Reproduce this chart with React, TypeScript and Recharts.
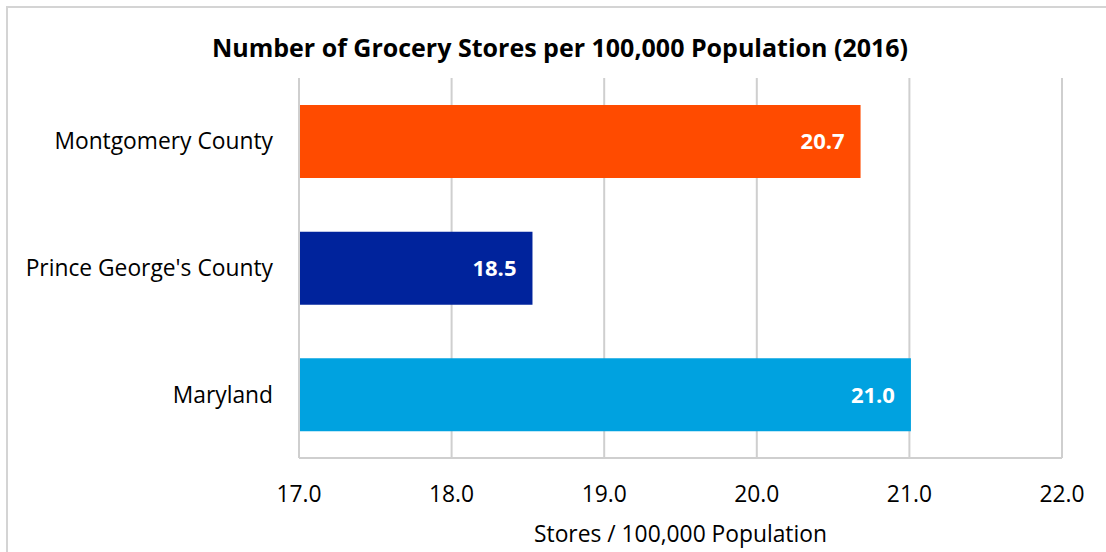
import { BarChart, Bar, XAxis, YAxis, CartesianGrid, Cell, LabelList, Label } from 'recharts';

// 지역별 식료품점 수 (인구 10만명당, 2016)
const regions = ['Montgomery County', "Prince George's County", 'Maryland'];
const stores = [20.68, 18.53, 21.01];
const barColors = ['#FF4B00', '#00239C', '#00A2E0'];
const xTicks = [17, 18, 19, 20, 21, 22];

const data = regions.map((name, i) => ({ name, value: stores[i] }));

const FONT = '"Open Sans", sans-serif';

const YTick = (props: any) => {
  const { x, y, payload } = props;
  return (
    <text x={x - 18} y={y} dy={8} textAnchor="end" fontSize={22.8} fontFamily={FONT} fill="#000">
      {payload.value}
    </text>
  );
};

const XTick = (props: any) => {
  const { x, y, payload } = props;
  return (
    <text x={x} y={y} dy={35.5} textAnchor="middle" fontSize={22.8} fontFamily={FONT} fill="#000">
      {Number(payload.value).toFixed(1)}
    </text>
  );
};

export default function App() {
  return (
    <div style={{ position: 'absolute', left: 0, top: 0, width: 1106, height: 552, overflow: 'hidden', background: '#fff' }}>
      <div
        style={{
          position: 'absolute', left: 6, top: 6, width: 1200, height: 700,
          border: '2px solid #d4d4d4', boxSizing: 'border-box',
        }}
      />
      <div
        style={{
          position: 'absolute', left: 14, top: 30, width: 1092, textAlign: 'center',
          fontFamily: FONT, fontWeight: 700, fontSize: 25, color: '#000', whiteSpace: 'nowrap',
        }}
      >
        Number of Grocery Stores per 100,000 Population (2016)
      </div>
      <div style={{ position: 'absolute', left: 0, top: 0 }}>
        <BarChart
          width={1106}
          height={552}
          data={data}
          layout="vertical"
          margin={{ top: 78, right: 44, bottom: 0, left: 0 }}
        >
          <CartesianGrid horizontal={false} stroke="#cfcfcf" strokeWidth={2} />
          <XAxis
            type="number"
            domain={[17, 22]}
            ticks={xTicks}
            allowDataOverflow
            height={94}
            stroke="#cfcfcf"
            strokeWidth={2}
            tickLine={false}
            tick={<XTick />}
          >
            <Label
              value="Stores / 100,000 Population"
              position="insideBottom"
              offset={10}
              style={{ fontSize: 22.8, fontFamily: FONT, fill: '#000' }}
            />
          </XAxis>
          <YAxis
            type="category"
            dataKey="name"
            width={299}
            stroke="#cfcfcf"
            strokeWidth={2}
            tickLine={false}
            tick={<YTick />}
          />
          <Bar dataKey="value" barSize={73} isAnimationActive={false}>
            {data.map((d, i) => (
              <Cell key={d.name} fill={barColors[i]} />
            ))}
            <LabelList
              dataKey="value"
              position="insideRight"
              offset={16}
              formatter={(v: any) => Number(v).toFixed(1)}
              style={{ fill: '#fff', fontWeight: 700, fontSize: 22, fontFamily: FONT }}
            />
          </Bar>
        </BarChart>
      </div>
    </div>
  );
}
